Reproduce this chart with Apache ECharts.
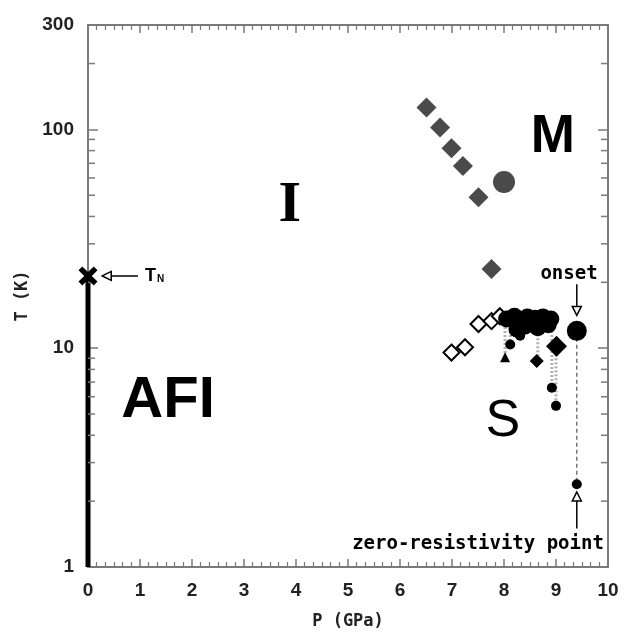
<!DOCTYPE html>
<html>
<head>
<meta charset="utf-8">
<script src="https://cdn.jsdelivr.net/npm/echarts@6/dist/echarts.min.js"></script>
<style>
  html, body { margin: 0; padding: 0; background: #fff; }
  #chart { width: 624px; height: 635px; }
</style>
</head>
<body>
<div id="chart"></div>
<script>
  // metal-insulator boundary (gray diamonds + gray circle)
  const miP = [6.51, 6.77, 6.99, 7.21, 7.51, 7.76]
  const miT = [126, 102, 82, 68, 49, 23]
  const miCircleP = [8.0]
  const miCircleT = [57.5]
  // open diamonds
  const openP = [6.99, 7.25, 7.51, 7.76, 7.92]
  const openT = [9.55, 10.1, 12.9, 13.3, 14.0]
  // onset of superconductivity (black circles)
  const onsetP = [8.05, 8.2, 8.3, 8.45, 8.6, 8.75, 8.9, 8.25, 8.4, 8.65, 8.85]
  const onsetT = [13.6, 14.0, 13.5, 13.9, 13.7, 13.9, 13.6, 12.2, 12.6, 12.4, 12.8]
  const bigP = [9.4]
  const bigT = [12.0]
  const blackDiaP = [9.01]
  const blackDiaT = [10.2]
  // zero-resistivity points
  const zeroCircleP = [8.12, 8.31, 8.92, 9.0, 9.4]
  const zeroCircleT = [10.4, 11.4, 6.6, 5.45, 2.39]
  const zeroTriP = [8.02]
  const zeroTriT = [9.1]
  const zeroDiaP = [8.63]
  const zeroDiaT = [8.75]
  // dotted connectors onset -> zero
  const linkP = [8.02, 8.12, 8.65, 8.92, 9.0]
  const linkTop = [13.6, 13.6, 13.7, 13.6, 10.2]
  const linkBottom = [9.1, 10.4, 8.75, 6.6, 5.45]
  // Neel temperature at ambient pressure
  const tnP = [0]
  const tnT = [21.4]
  // region labels
  const regionText = ['M', 'I', 'AFI', 'S']
  const regionP = [8.94, 3.88, 1.54, 7.98]
  const regionT = [92, 44.5, 5.73, 4.64]
  // minor ticks of the T axis
  const yMinor = [2, 3, 4, 5, 6, 7, 8, 9, 20, 30, 40, 50, 60, 70, 80, 90, 200]

  const frame = '#7a7a7a'
  const gray = '#4a4a4a'
  const mono = 'DejaVu Sans Mono'
  const sans = 'Liberation Sans'
  const xShape = 'path://M4,0 L10,6 L16,0 L20,4 L14,10 L20,16 L16,20 L10,14 L4,20 L0,16 L6,10 L0,4 Z'

  const pts = (xs, ys) => xs.map((x, i) => [x, ys[i]])
  const solid = (c) => ({ color: c, opacity: 1 })

  let chart = echarts.init(document.getElementById('chart'))

  const xBase = {
    type: 'value', min: 0, max: 10, interval: 1,
    axisLine: { onZero: false, lineStyle: { color: frame, width: 2 } },
    axisTick: { inside: true, length: 8, lineStyle: { color: frame, width: 1.5 } },
    minorTick: { show: true, splitNumber: 6, length: 5, lineStyle: { color: frame, width: 1.2 } },
    splitLine: { show: false }
  }
  const yBase = {
    type: 'log', logBase: 10, min: 1, max: 300,
    axisLine: { onZero: false, lineStyle: { color: frame, width: 2 } },
    axisTick: { inside: true, length: 10, lineStyle: { color: frame, width: 1.5 } },
    splitLine: { show: false }
  }

  let series = []

  // thick AFI line at P = 0
  series.push({
    type: 'line', clip: false, symbol: 'none', z: 3,
    data: [[0, 1], [tnP[0], tnT[0]]],
    lineStyle: { color: '#000', width: 5 }
  })
  series.push({
    type: 'scatter', clip: false, symbol: xShape, symbolSize: 19, z: 5,
    data: pts(tnP, tnT), itemStyle: solid('#000')
  })
  // TN arrow
  series.push({
    type: 'line', symbol: 'none', z: 3,
    data: [[0.45, tnT[0]], [0.96, tnT[0]]],
    lineStyle: { color: '#000', width: 1.5 }
  })
  series.push({
    type: 'scatter', symbol: 'triangle', symbolSize: 9, symbolRotate: 90, z: 4,
    data: [[0.36, tnT[0]]],
    itemStyle: { color: '#fff', borderColor: '#000', borderWidth: 1.5, opacity: 1 }
  })

  // dotted connectors
  linkP.forEach((p, i) => {
    series.push({
      type: 'line', symbol: 'none', z: 2,
      data: [[p, linkTop[i]], [p, linkBottom[i]]],
      lineStyle: { color: '#b0b0b0', width: 3, type: [2, 2] }
    })
  })
  // dashed line of the 9.4 GPa sample
  series.push({
    type: 'line', symbol: 'none', z: 2,
    data: [[bigP[0], bigT[0]], [zeroCircleP[4], zeroCircleT[4]]],
    lineStyle: { color: '#555', width: 1.2, type: [4, 3] }
  })

  series.push({
    type: 'scatter', symbol: 'diamond', symbolSize: 20, z: 4,
    data: pts(miP, miT), itemStyle: solid(gray)
  })
  series.push({
    type: 'scatter', symbol: 'circle', symbolSize: 22, z: 4,
    data: pts(miCircleP, miCircleT), itemStyle: solid(gray)
  })
  series.push({
    type: 'scatter', symbol: 'diamond', symbolSize: 16, z: 4,
    data: pts(openP, openT),
    itemStyle: { color: '#fff', borderColor: '#000', borderWidth: 2, opacity: 1 }
  })
  series.push({
    type: 'scatter', symbol: 'circle', symbolSize: 17, z: 4,
    data: pts(onsetP, onsetT), itemStyle: solid('#000')
  })
  series.push({
    type: 'scatter', symbol: 'circle', symbolSize: 20, z: 4,
    data: pts(bigP, bigT), itemStyle: solid('#000')
  })
  series.push({
    type: 'scatter', symbol: 'diamond', symbolSize: 21, z: 4,
    data: pts(blackDiaP, blackDiaT), itemStyle: solid('#000')
  })
  series.push({
    type: 'scatter', symbol: 'circle', symbolSize: 10, z: 4,
    data: pts(zeroCircleP, zeroCircleT), itemStyle: solid('#000')
  })
  series.push({
    type: 'scatter', symbol: 'triangle', symbolSize: 10, z: 4,
    data: pts(zeroTriP, zeroTriT), itemStyle: solid('#000')
  })
  series.push({
    type: 'scatter', symbol: 'diamond', symbolSize: 14, z: 4,
    data: pts(zeroDiaP, zeroDiaT), itemStyle: solid('#000')
  })

  // onset arrow
  series.push({
    type: 'line', symbol: 'none', z: 3,
    data: [[9.4, 19.6], [9.4, 15.3]],
    lineStyle: { color: '#000', width: 1.5 }
  })
  series.push({
    type: 'scatter', symbol: 'triangle', symbolSize: 9, symbolRotate: 180, z: 4,
    data: [[9.4, 14.8]],
    itemStyle: { color: '#fff', borderColor: '#000', borderWidth: 1.5, opacity: 1 }
  })
  // zero-resistivity arrow
  series.push({
    type: 'line', symbol: 'none', z: 3,
    data: [[9.4, 1.5], [9.4, 2.02]],
    lineStyle: { color: '#000', width: 1.5 }
  })
  series.push({
    type: 'scatter', symbol: 'triangle', symbolSize: 9, z: 4,
    data: [[9.4, 2.1]],
    itemStyle: { color: '#fff', borderColor: '#000', borderWidth: 1.5, opacity: 1 }
  })

  // region labels and annotations
  const regionFont = [
    { fontFamily: sans, fontWeight: 'bold', fontSize: 53 },
    { fontFamily: 'Liberation Serif', fontWeight: 'bold', fontSize: 58 },
    { fontFamily: sans, fontWeight: 'bold', fontSize: 58 },
    { fontFamily: sans, fontWeight: 'normal', fontSize: 52 }
  ]
  series.push({
    type: 'scatter', symbolSize: 0, z: 6, silent: true,
    itemStyle: { color: '#fff', opacity: 1 },
    data: regionText.map((t, i) => ({
      value: [regionP[i], regionT[i]],
      label: Object.assign({ show: true, position: 'inside', formatter: t, color: '#000' }, regionFont[i])
    })).concat([
      {
        value: [9.25, 21.8],
        label: { show: true, position: 'inside', formatter: 'onset', color: '#000',
          fontFamily: mono, fontWeight: 'bold', fontSize: 19 }
      },
      {
        value: [7.5, 1.27],
        label: { show: true, position: 'inside', formatter: 'zero-resistivity point', color: '#000',
          fontFamily: mono, fontWeight: 'bold', fontSize: 19 }
      },
      {
        value: [1.28, tnT[0]],
        label: { show: true, position: 'inside', formatter: '{a|T}{b|N}',
          rich: {
            a: { fontFamily: sans, fontWeight: 'bold', fontSize: 18, color: '#000' },
            b: { fontFamily: sans, fontWeight: 'bold', fontSize: 10, color: '#000', padding: [6, 0, 0, 1] }
          } }
      }
    ])
  })

  // minor ticks on the log T axis (left and right)
  series.push({
    type: 'custom', z: 5, silent: true, clip: false,
    data: yMinor.map(v => [0, v]),
    renderItem: (params, api) => {
      const v = api.value(1)
      const l = api.coord([0, v])
      const r = api.coord([10, v])
      const st = { stroke: frame, lineWidth: 1.5 }
      return {
        type: 'group',
        children: [
          { type: 'line', shape: { x1: l[0], y1: l[1], x2: l[0] + 7, y2: l[1] }, style: st },
          { type: 'line', shape: { x1: r[0], y1: r[1], x2: r[0] - 7, y2: r[1] }, style: st }
        ]
      }
    }
  })

  let option = {
    animation: false,
    backgroundColor: '#fff',
    grid: { left: 88, right: 16, top: 25, bottom: 67 },
    xAxis: [
      Object.assign({}, xBase, {
        position: 'bottom',
        name: 'P (GPa)', nameLocation: 'middle', nameGap: 46,
        nameTextStyle: { fontFamily: mono, fontWeight: 'bold', fontSize: 17, color: '#222' },
        axisLabel: { margin: 14, fontFamily: sans, fontWeight: 'bold', fontSize: 19, color: '#222' }
      }),
      Object.assign({}, xBase, { position: 'top', axisLabel: { show: false } })
    ],
    yAxis: [
      Object.assign({}, yBase, {
        position: 'left',
        name: 'T (K)', nameLocation: 'middle', nameGap: 57, nameRotate: 90,
        nameTextStyle: { fontFamily: mono, fontWeight: 'bold', fontSize: 17, color: '#222' },
        axisLabel: { margin: 14, fontFamily: sans, fontWeight: 'bold', fontSize: 19, color: '#222' }
      }),
      Object.assign({}, yBase, { position: 'right', axisLabel: { show: false } })
    ],
    series: series
  }
  chart.setOption(option)
  window.addEventListener('resize', function () {
    chart.resize()
  })
</script>
</body>
</html>
